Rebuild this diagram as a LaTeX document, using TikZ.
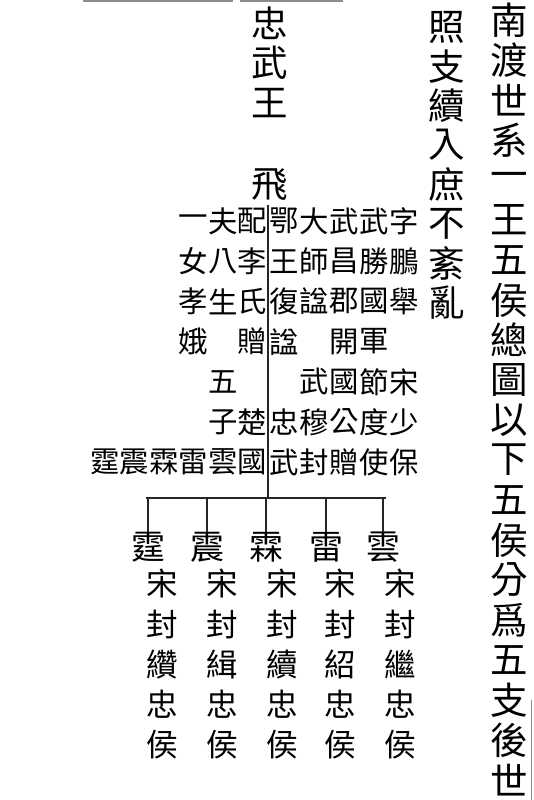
\documentclass[tikz,border=0pt]{standalone}
\usepackage{fontspec}
\newfontfamily\cjk{Noto Sans CJK TC}
\tikzset{
  headA/.style={inner sep=0pt, font={\cjk\fontsize{37.5}{37.5}\selectfont}},
  headB/.style={inner sep=0pt, font={\cjk\fontsize{36.5}{36.5}\selectfont}},
  midch/.style={inner sep=0pt, font={\cjk\fontsize{29.4}{29.4}\selectfont}},
  kidname/.style={inner sep=0pt, font={\cjk\fontsize{34}{34}\selectfont}},
  kidtitle/.style={inner sep=0pt, font={\cjk\fontsize{31.5}{31.5}\selectfont}},
  stemline/.style={line width=2pt, black!85},
  barline/.style={line width=2.6pt, black!85},
  dropline/.style={line width=2pt, black!85},
  edgeline/.style={line width=1.4pt, black!45},
}
\begin{document}
\begin{tikzpicture}[x=1pt,y=-1pt]
\useasboundingbox (0,0) rectangle (533,800);
% faint frame remnants
\draw[edgeline] (83,1) -- (233,1) (240,1) -- (343,1);
\draw[edgeline, line width=1pt] (531,700) -- (531,800);
% right title column
\foreach \c [count=\i from 0] in {南,渡,世,系,一,王,五,侯,總,圖,以,下,五,侯,分,爲,五,支,後,世}
  \node[headA] (t\i) at (509,{20+40*\i}) {\c};
% second column
\foreach \c [count=\i from 0] in {照,支,續,入,庶,不,紊,亂}
  \node[headB] (z\i) at (447,{27+39.4*\i}) {\c};
% 忠武王
\foreach \c [count=\i from 0] in {忠,武,王}
  \node[headB] (w\i) at (270,{23+40*\i}) {\c};
% 飛
\node[headB] (fei) at (270,185) {飛};
% middle block: columns right to left
\foreach \c [count=\i from 5] in {字,鵬,舉} \node[midch] (a\i) at (404,{20+40.2*\i}) {\c};
\foreach \c [count=\i from 9] in {宋,少,保} \node[midch] (a\i) at (404,{20+40.2*\i}) {\c};
\foreach \c [count=\i from 5] in {武,勝,國,軍,節,度,使} \node[midch] (b\i) at (374,{20+40.2*\i}) {\c};
\foreach \c [count=\i from 5] in {武,昌,郡,開,國,公,贈} \node[midch] (c\i) at (344,{20+40.2*\i}) {\c};
\foreach \c [count=\i from 5] in {大,師,諡} \node[midch] (d\i) at (314,{20+40.2*\i}) {\c};
\foreach \c [count=\i from 9] in {武,穆,封} \node[midch] (d\i) at (314,{20+40.2*\i}) {\c};
\foreach \c [count=\i from 5] in {鄂,王,復,諡} \node[midch] (e\i) at (284.5,{20+40.2*\i}) {\c};
\foreach \c [count=\i from 10] in {忠,武} \node[midch] (e\i) at (284.5,{20+40.2*\i}) {\c};
\foreach \c [count=\i from 5] in {配,李,氏,贈} \node[midch] (f\i) at (252.5,{20+40.2*\i}) {\c};
\foreach \c [count=\i from 10] in {楚,國} \node[midch] (f\i) at (252.5,{20+40.2*\i}) {\c};
\foreach \c [count=\i from 5] in {夫,八,生} \node[midch] (g\i) at (223,{20+40.2*\i}) {\c};
\foreach \c [count=\i from 9] in {五,子,雲} \node[midch] (g\i) at (223,{20+40.2*\i}) {\c};
\foreach \c [count=\i from 5] in {一,女,孝,娥} \node[midch] (h\i) at (193.5,{20+40.2*\i}) {\c};
% row of sons' names continuing leftwards
\node[midch] (s4) at (193.5,462) {雷};
\node[midch] (s3) at (164,462) {霖};
\node[midch] (s2) at (134.5,462) {震};
\node[midch] (s1) at (105,462) {霆};
% five sons
\node[kidname] (k1) at (383,547) {雲};
\node[kidname] (k2) at (326,547) {雷};
\node[kidname] (k3) at (266,547) {霖};
\node[kidname] (k4) at (207,547) {震};
\node[kidname] (k5) at (148,547) {霆};
\foreach \c [count=\i from 14] in {宋,封,繼,忠,侯} \node[kidtitle] (m1x\i) at (400,{21+40.2*\i}) {\c};
\foreach \c [count=\i from 14] in {宋,封,紹,忠,侯} \node[kidtitle] (m2x\i) at (340,{21+40.2*\i}) {\c};
\foreach \c [count=\i from 14] in {宋,封,續,忠,侯} \node[kidtitle] (m3x\i) at (282,{21+40.2*\i}) {\c};
\foreach \c [count=\i from 14] in {宋,封,緝,忠,侯} \node[kidtitle] (m4x\i) at (222,{21+40.2*\i}) {\c};
\foreach \c [count=\i from 14] in {宋,封,纘,忠,侯} \node[kidtitle] (m5x\i) at (162,{21+40.2*\i}) {\c};
% tree connectors
\coordinate (stemtop) at (268,205);
\coordinate (junction) at (268,498);
\coordinate (barL) at (146,498);
\coordinate (barR) at (386,498);
\draw[stemline] (stemtop) -- (junction);
\draw[barline] (barL) -- (barR);
\foreach \n in {1,...,5}
  \draw[dropline] (k\n.north |- junction) -- (k\n.north);
\end{tikzpicture}
\end{document}
